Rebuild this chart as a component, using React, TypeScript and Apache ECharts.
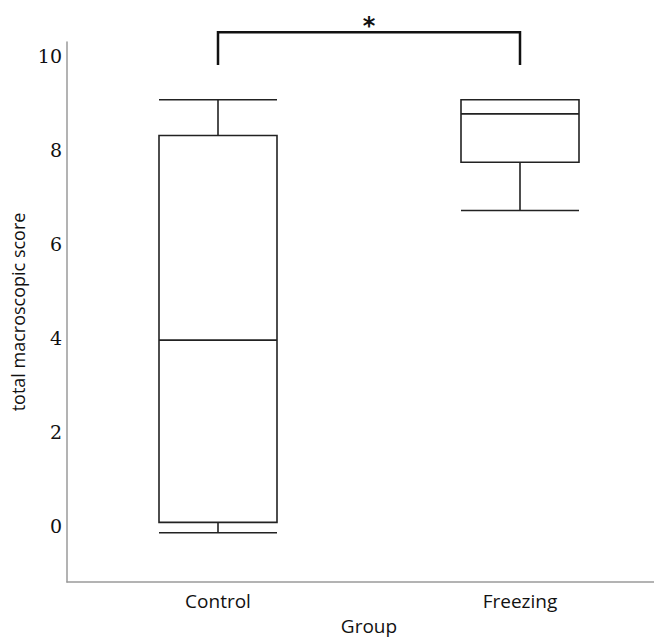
import React, { useEffect, useRef } from "react";
import * as echarts from "echarts";

const categories = ["Control", "Freezing"];
// [min, Q1, median, Q3, max]
const boxValues = [
  [-0.15, 0.07, 3.95, 8.31, 9.07],
  [6.71, 7.74, 8.77, 9.07, 9.07],
];
const yTicks = [0, 2, 4, 6, 8, 10];
// significance bracket: [fromCategory, toCategory, legBottom, barTop]
const bracket = [[0, 1, 9.81, 10.51]];
const sigLabel = "*";

export default function App() {
  const ref = useRef<HTMLDivElement>(null);
  useEffect(() => {
    const chart = echarts.init(ref.current!, null, { renderer: "svg" });
    chart.setOption({
      animation: false,
      backgroundColor: "#ffffff",
      grid: { left: 67, top: 42, width: 604, bottom: 56, outerBoundsMode: "none", containLabel: false },
      xAxis: {
        type: "category",
        data: categories,
        name: "Group",
        nameLocation: "middle",
        nameGap: 34,
        nameTextStyle: { fontFamily: "Open Sans", fontSize: 19, color: "#111" },
        axisLine: { onZero: false, lineStyle: { color: "#9a9a9a", width: 1.5 } },
        axisTick: { show: false },
        axisLabel: { fontFamily: "Open Sans", fontSize: 19, color: "#111", margin: 9 },
        splitLine: { show: false },
      },
      yAxis: {
        type: "value",
        min: -1.2,
        max: 10.3,
        name: "total macroscopic score",
        nameLocation: "middle",
        nameGap: 33,
        nameTextStyle: { fontFamily: "Open Sans", fontSize: 18, color: "#111" },
        axisLine: { show: true, lineStyle: { color: "#9a9a9a", width: 1.5 } },
        axisTick: { show: false },
        axisLabel: {
          customValues: yTicks,
          fontFamily: "DejaVu Serif",
          fontSize: 19,
          color: "#111",
          margin: 5,
        },
        splitLine: { show: false },
      },
      series: [
        {
          type: "boxplot",
          data: boxValues,
          boxWidth: [118, 118],
          itemStyle: { color: "#ffffff", borderColor: "#222", borderWidth: 1.6 },
        },
        {
          type: "custom",
          clip: false,
          data: bracket,
          encode: { x: [0, 1], y: [2, 3] },
          renderItem: (params: any, api: any) => {
            const a = api.coord([api.value(0), api.value(2)]);
            const b = api.coord([api.value(0), api.value(3)]);
            const c = api.coord([api.value(1), api.value(3)]);
            const d = api.coord([api.value(1), api.value(2)]);
            return {
              type: "group",
              children: [
                {
                  type: "polyline",
                  shape: { points: [a, b, c, d] },
                  style: { stroke: "#111", lineWidth: 2.5, fill: null },
                },
                {
                  type: "text",
                  x: (b[0] + c[0]) / 2,
                  y: b[1] + 6,
                  style: {
                    text: sigLabel,
                    fontSize: 24,
                    fontWeight: "bold",
                    fontFamily: "DejaVu Sans",
                    fill: "#111",
                    align: "center",
                    verticalAlign: "bottom",
                  },
                },
              ],
            };
          },
        },
      ],
    });
    return () => chart.dispose();
  }, []);
  return <div ref={ref} style={{ width: 654, height: 638, position: "absolute", left: 0, top: 0 }} />;
}
